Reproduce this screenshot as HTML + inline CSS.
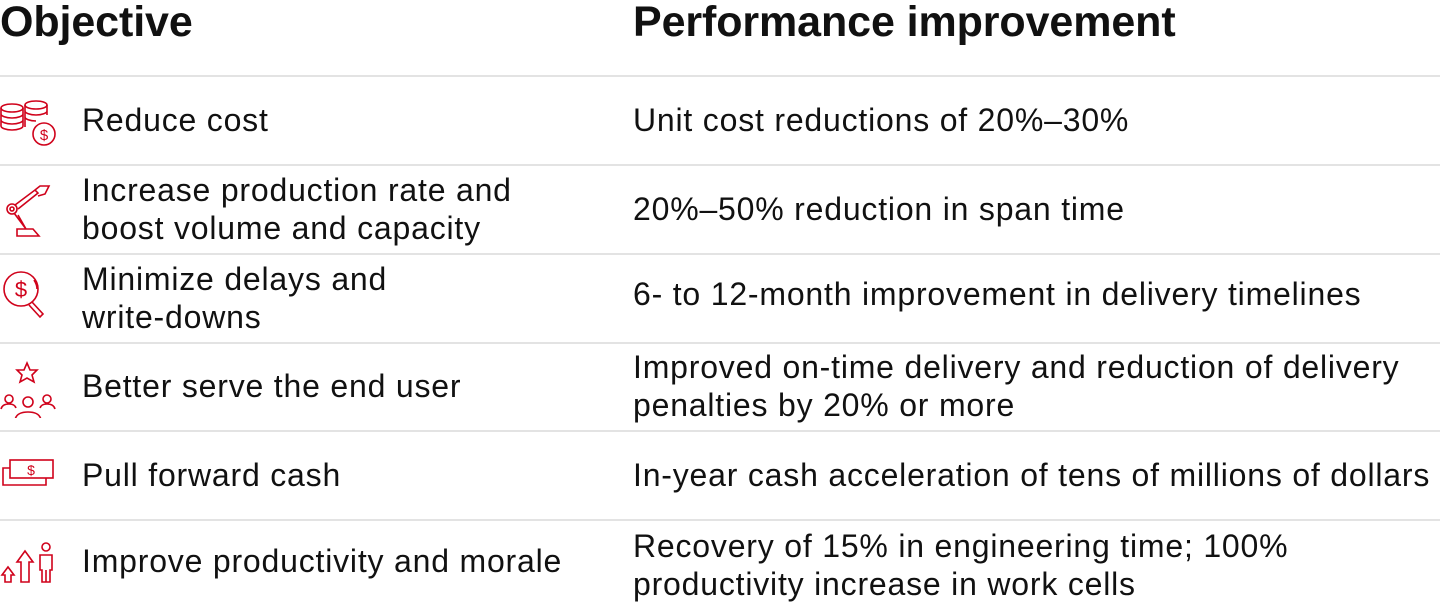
<!DOCTYPE html>
<html><head><meta charset="utf-8"><style>
body{margin:0;width:1440px;height:608px;background:#fff;position:relative;overflow:hidden;font-family:"Liberation Sans",sans-serif;color:#111}
.h{position:absolute;top:-1px;font-size:43px;font-weight:bold;line-height:46px;letter-spacing:-0.1px}
.l{position:absolute;left:0;width:1440px;height:2px;background:#e3e3e3}
.t{position:absolute;font-size:32px;line-height:38px;letter-spacing:0.8px;white-space:nowrap;transform:translateY(-50%)}
svg{position:absolute;left:0}
svg *{fill:none;stroke:#d0021b;stroke-width:1.6}
</style></head><body>
<div class="h" style="left:0">Objective</div>
<div class="h" style="left:633px">Performance improvement</div>
<div class="l" style="top:75px"></div>
<div class="l" style="top:164px"></div>
<div class="l" style="top:253px"></div>
<div class="l" style="top:342px"></div>
<div class="l" style="top:430px"></div>
<div class="l" style="top:519px"></div>

<svg width="60" height="60" style="top:96px"><ellipse cx="12" cy="12" rx="11" ry="4"/><path d="M1 12v18c0 2 5 4 11 4s11-2 11-4V12M1 18c0 2 5 4 11 4s11-2 11-4M1 24c0 2 5 4 11 4s11-2 11-4"/><ellipse cx="36" cy="9" rx="11" ry="4"/><path d="M25 9v22M47 9v10M25 15c0 2 5 4 11 4s11-2 11-4M25 21c0 2 5 4 11 4"/><circle cx="44" cy="38" r="11"/><text x="44" y="44" font-size="15" text-anchor="middle" style="fill:#d0021b;stroke:none">$</text></svg>
<svg width="60" height="60" style="top:180px"><circle cx="12" cy="29" r="5"/><circle cx="12" cy="29" r="2"/><path d="M15 25l20-15 3 3-20 16M35 10l5-4h9l-4 8-7 2M14 33l12 16h-9v7h22l-6-7h-7l-8-14"/></svg>
<svg width="60" height="60" style="top:268px"><circle cx="21" cy="21" r="17"/><path d="M32 34l11 12-3 3-11-12M34 12c2 3 3 6 3 9"/><text x="21" y="29" font-size="22" text-anchor="middle" style="fill:#d0021b;stroke:none">$</text></svg>
<svg width="60" height="60" style="top:358px"><path d="M27 5l3 7 7 0-5 5 2 7-7-4-7 4 2-7-5-5 7 0z"/><circle cx="9" cy="41" r="4"/><path d="M1 51c1-4 4-5 8-5s6 1 7 4"/><circle cx="47" cy="41" r="4"/><path d="M55 51c-1-4-4-5-8-5s-6 1-7 4"/><circle cx="28" cy="44" r="5"/><path d="M15 62c1-6 6-8 13-8s12 2 13 8"/></svg>
<svg width="60" height="60" style="top:450px"><rect x="10" y="10" width="43" height="18"/><path d="M10 18H3v17h43v-7"/><text x="31" y="25" font-size="14" text-anchor="middle" style="fill:#d0021b;stroke:none">$</text></svg>
<svg width="60" height="60" style="top:535px"><path d="M5 47v-7h-3l6-8 6 8h-3v7zM21 47v-20h-4l8-11 8 11h-4v20z"/><circle cx="46" cy="12" r="4"/><path d="M40 20h12v15h-2v12h-8v-12h-2zM46 35v12"/></svg>

<div class="t" style="left:82px;top:120px">Reduce cost</div>
<div class="t" style="left:633px;top:120px">Unit cost reductions of 20%–30%</div>
<div class="t" style="left:82px;top:209px">Increase production rate and<br>boost volume and capacity</div>
<div class="t" style="left:633px;top:209px">20%–50% reduction in span time</div>
<div class="t" style="left:82px;top:298px">Minimize delays and<br>write-downs</div>
<div class="t" style="left:633px;top:294px">6- to 12-month improvement in delivery timelines</div>
<div class="t" style="left:82px;top:386px">Better serve the end user</div>
<div class="t" style="left:633px;top:386px">Improved on-time delivery and reduction of delivery<br>penalties by 20% or more</div>
<div class="t" style="left:82px;top:475px">Pull forward cash</div>
<div class="t" style="left:633px;top:475px">In-year cash acceleration of tens of millions of dollars</div>
<div class="t" style="left:82px;top:561px">Improve productivity and morale</div>
<div class="t" style="left:633px;top:565px">Recovery of 15% in engineering time; 100%<br>productivity increase in work cells</div>
</body></html>
